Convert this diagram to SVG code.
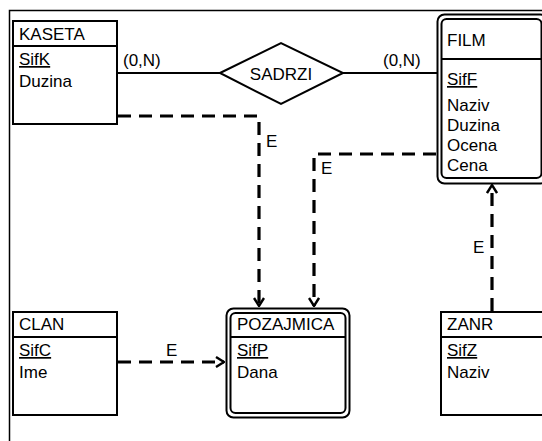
<svg xmlns="http://www.w3.org/2000/svg" width="542" height="441" viewBox="0 0 542 441">
<defs>
<marker id="chev" viewBox="0 0 10 12" refX="9" refY="6" markerWidth="10" markerHeight="12" markerUnits="userSpaceOnUse" orient="auto">
<path d="M1,1 L9,6 L1,11" fill="none" stroke="#000" stroke-width="2.4"/>
</marker>
<style>
text{font-family:"Liberation Sans",Arial,sans-serif;font-size:17px;fill:#000}
.box{fill:#fff;stroke:#000;stroke-width:2}
.sep{stroke:#000;stroke-width:2}
.dash{fill:none;stroke:#000;stroke-width:3.2;stroke-dasharray:13,8}
.solid{fill:none;stroke:#000;stroke-width:2}
.key{text-decoration:underline}
</style>
</defs>
<rect width="542" height="441" fill="#fff"/>
<rect x="9.5" y="10.5" width="545" height="445" fill="none" stroke="#000" stroke-width="1.5"/>
<g id="connectors">
<line class="solid" x1="117" y1="73" x2="220" y2="73"/>
<line class="solid" x1="343" y1="73" x2="437" y2="73"/>
<text x="123" y="66">(0,N)</text>
<text x="383" y="66">(0,N)</text>
<polyline class="dash" points="118,116 259,116 259,306" marker-end="url(#chev)"/>
<text x="266" y="147">E</text>
<polyline class="dash" points="436,154 314,154 314,306" marker-end="url(#chev)"/>
<text x="321" y="174">E</text>
<line class="dash" x1="118" y1="362" x2="224" y2="362" marker-end="url(#chev)"/>
<text x="166" y="356">E</text>
<line class="dash" x1="492" y1="311" x2="492" y2="185" marker-end="url(#chev)"/>
<text x="473" y="253">E</text>
</g>
<g id="kaseta">
<rect class="box" x="13" y="21" width="104" height="103"/>
<line class="sep" x1="13" y1="46" x2="117" y2="46"/>
<text x="19" y="40">KASETA</text>
<text x="19" y="65" class="key">SifK</text>
<text x="19" y="87">Duzina</text>
</g>
<g id="sadrzi">
<polygon points="220,73 281,43 343,73 281,104" fill="#fff" stroke="#000" stroke-width="2"/>
<text x="281" y="80" text-anchor="middle">SADRZI</text>
</g>
<g id="film">
<rect class="box" x="437.5" y="14.5" width="110" height="169" rx="7"/>
<rect class="box" x="441.5" y="19" width="100" height="159" rx="5"/>
<line class="sep" x1="441.5" y1="59" x2="542" y2="59"/>
<text x="447" y="46">FILM</text>
<text x="447" y="85" class="key">SifF</text>
<text x="447" y="111">Naziv</text>
<text x="447" y="131">Duzina</text>
<text x="447" y="151">Ocena</text>
<text x="447" y="171">Cena</text>
</g>
<g id="clan">
<rect class="box" x="13" y="312" width="104" height="103"/>
<line class="sep" x1="13" y1="337" x2="117" y2="337"/>
<text x="19" y="330">CLAN</text>
<text x="19" y="356" class="key">SifC</text>
<text x="19" y="378">Ime</text>
</g>
<g id="pozajmica">
<rect class="box" x="226.5" y="308.5" width="123" height="109" rx="7"/>
<rect class="box" x="230.5" y="313" width="115" height="100" rx="5"/>
<line class="sep" x1="230.5" y1="337" x2="345.5" y2="337"/>
<text x="237" y="330">POZAJMICA</text>
<text x="237" y="356" class="key">SifP</text>
<text x="237" y="378">Dana</text>
</g>
<g id="zanr">
<rect class="box" x="441" y="312" width="110" height="103"/>
<line class="sep" x1="441" y1="337" x2="542" y2="337"/>
<text x="447" y="330">ZANR</text>
<text x="447" y="356" class="key">SifZ</text>
<text x="447" y="378">Naziv</text>
</g>
</svg>
